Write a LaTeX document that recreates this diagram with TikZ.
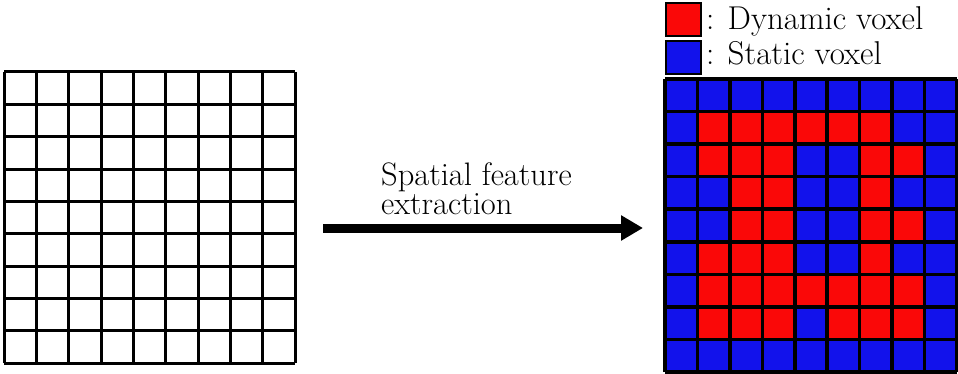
\documentclass[tikz,border=0pt]{standalone}
\usetikzlibrary{arrows.meta}
\definecolor{dynred}{RGB}{250,8,8}
\definecolor{statblue}{RGB}{18,18,235}
\tikzset{
  gridline/.style={line width=3pt, black},
  voxline/.style={line width=3.5pt, black},
  legendbox/.style={draw=black, line width=2pt, minimum width=35pt, minimum height=33pt, inner sep=0pt},
  legendtext/.style={font=\fontsize{33}{33}\selectfont, anchor=base west, inner sep=0pt},
  bigarrow/.style={line width=9pt, -{Triangle[length=22pt,width=24pt]}},
  labeltext/.style={font=\fontsize{32.5}{29}\selectfont, align=left, anchor=west, inner sep=0pt}
}
\begin{document}
\begin{tikzpicture}[x=1pt,y=1pt]
\useasboundingbox (0,0) rectangle (958,373);
% left empty grid
\node[minimum width=291pt, minimum height=291pt, inner sep=0pt] (ingrid) at (149.5,155.5) {};
\foreach \i in {0,...,9} {
  \draw[gridline] ({4+\i*291/9},10) -- ({4+\i*291/9},301);
  \draw[gridline] (4,{10+\i*291/9}) -- (295,{10+\i*291/9});
}
% right voxel grid
\node[minimum width=292pt, minimum height=293pt, inner sep=0pt] (outgrid) at (811,147.5) {};
\foreach \row/\pat in {0/{0,0,0,0,0,0,0,0,0},1/{0,1,1,1,1,1,1,0,0},2/{0,1,1,1,0,0,1,1,0},3/{0,0,1,1,0,0,1,0,0},4/{0,0,1,1,0,0,1,1,0},5/{0,1,1,1,0,0,1,0,0},6/{0,1,1,1,1,1,1,1,0},7/{0,1,1,1,0,1,1,1,0},8/{0,0,0,0,0,0,0,0,0}} {
  \foreach \v [count=\c from 0] in \pat {
    \ifnum\v=1 \def\cc{dynred}\else\def\cc{statblue}\fi
    \fill[\cc] ({665+\c*292/9},{294-\row*293/9}) rectangle ({665+(\c+1)*292/9},{294-(\row+1)*293/9});
  }
}
\foreach \i in {0,...,9} {
  \draw[voxline] ({665+\i*292/9},1) -- ({665+\i*292/9},294);
  \draw[voxline] (665,{1+\i*293/9}) -- (957,{1+\i*293/9});
}
% legend
\node[legendbox, fill=dynred] (redkey) at (683.5,353.5) {};
\node[legendbox, fill=statblue] (bluekey) at (683.5,315.5) {};
\node[legendtext] (redlabel) at (706,343) {: Dynamic voxel};
\node[legendtext] (bluelabel) at (706,308) {: Static voxel};
% arrow
\node[labeltext] (steplabel) at (381,184) {Spatial feature\\extraction};
\coordinate (arrowstart) at (323,145);
\coordinate (arrowend) at (643,145);
\draw[bigarrow] (arrowstart) -- (arrowend);
\end{tikzpicture}
\end{document}
